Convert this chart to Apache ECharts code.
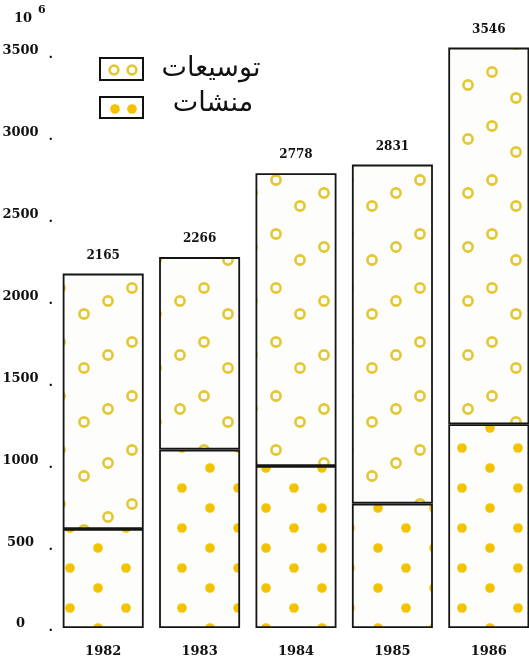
<!DOCTYPE html>
<html><head><meta charset="utf-8">
<script src="https://cdn.jsdelivr.net/npm/echarts@6/dist/echarts.min.js"></script>
<style>html,body{margin:0;padding:0;background:#fff}#c{width:529px;height:664px}</style>
</head><body><div id="c"></div>
<script>
const years = ['1982','1983','1984','1985','1986'];
const totals = [2165, 2266, 2778, 2831, 3546];
const establishments = [605, 1090, 990, 760, 1245];   // منشات (filled dots)
const extensions = [1560, 1176, 1788, 2071, 2301];     // توسيعات (hollow circles)
const yTicks = [0, 500, 1000, 1500, 2000, 2500, 3000, 3500];
const legendNames = ['توسيعات', 'منشات'];

function makePattern(hollow) {
  const c = document.createElement('canvas');
  const w = hollow ? 72 : 56, h = hollow ? 54 : 40;
  c.width = w; c.height = h;
  const ctx = c.getContext('2d');
  ctx.fillStyle = '#fdfdfb'; ctx.fillRect(0, 0, w, h);
  if (hollow) {
    const pts = [[12, 44], [36, 31], [60, 18]];
    ctx.strokeStyle = '#e3c733'; ctx.lineWidth = 2.6;
    pts.forEach(p => {
      for (let dx = -w; dx <= w; dx += w) for (let dy = -h; dy <= h; dy += h) {
        ctx.beginPath(); ctx.arc(p[0] + dx, p[1] + dy, 4.6, 0, Math.PI * 2); ctx.stroke();
      }
    });
  } else {
    const pts = [[14, 8], [42, 28]];
    ctx.fillStyle = '#f3c300';
    pts.forEach(p => {
      for (let dx = -w; dx <= w; dx += w) for (let dy = -h; dy <= h; dy += h) {
        ctx.beginPath(); ctx.arc(p[0] + dx, p[1] + dy, 4.8, 0, Math.PI * 2); ctx.fill();
      }
    });
  }
  return { image: c, repeat: 'repeat' };
}

const chart = echarts.init(document.getElementById('c'), null, { renderer: 'canvas' });
const serif = "'DejaVu Serif', 'Liberation Serif', serif";
const option = {
  backgroundColor: '#ffffff',
  animation: false,
  grid: { left: 55, right: -8, top: 6, bottom: 36, containLabel: false, outerBoundsMode: 'none' },
  xAxis: {
    type: 'category', data: years,
    axisLine: { show: false }, axisTick: { show: false },
    axisLabel: { margin: 17, color: '#111', fontFamily: serif, fontSize: 13, fontWeight: 'bold', hideOverlap: false }
  },
  yAxis: {
    type: 'value', min: 0, max: 3800, interval: 500,
    splitLine: { show: false }, axisLine: { show: false }, axisTick: { show: false },
    axisLabel: {
      showMaxLabel: false, margin: 2,
      formatter: v => yTicks.indexOf(v) >= 0 ? '{n|' + v + '}{d|.}' : '',
      rich: {
        n: { color: '#111', fontFamily: serif, fontSize: 13, fontWeight: 'bold', width: 38, align: 'center', padding: [0, 0, 8, 0] },
        d: { color: '#111', fontFamily: serif, fontSize: 13, fontWeight: 'bold', padding: [0, 0, 0, 9] }
      }
    }
  },
  series: [
    {
      name: legendNames[1], type: 'bar', stack: 's', barWidth: 81,
      data: establishments,
      itemStyle: { color: makePattern(false), borderColor: '#151515', borderWidth: 1.8 }
    },
    {
      name: legendNames[0], type: 'bar', stack: 's', barWidth: 81,
      data: extensions,
      itemStyle: { color: makePattern(true), borderColor: '#151515', borderWidth: 1.8 },
      label: {
        show: true, position: 'top', distance: 12,
        formatter: p => String(totals[p.dataIndex]),
        color: '#111', fontFamily: serif, fontSize: 12, fontWeight: 'bold'
      }
    }
  ],
  graphic: [
    { type: 'text', left: 14, top: 12, style: { text: '10', font: "bold 13px 'DejaVu Serif'", fill: '#111' } },
    { type: 'text', left: 38, top: 5, style: { text: '6', font: "bold 11px 'DejaVu Serif'", fill: '#111' } },
    { type: 'rect', shape: { x: 100, y: 58, width: 43, height: 22 }, style: { fill: '#fff', stroke: '#111', lineWidth: 2 } },
    { type: 'circle', shape: { cx: 114, cy: 70, r: 4.4 }, style: { fill: 'none', stroke: '#e3c733', lineWidth: 2.6 } },
    { type: 'circle', shape: { cx: 132, cy: 70, r: 4.4 }, style: { fill: 'none', stroke: '#e3c733', lineWidth: 2.6 } },
    { type: 'rect', shape: { x: 100, y: 97, width: 43, height: 21 }, style: { fill: '#fff', stroke: '#111', lineWidth: 2 } },
    { type: 'circle', shape: { cx: 115, cy: 109, r: 4.8 }, style: { fill: '#f3c300' } },
    { type: 'circle', shape: { cx: 132, cy: 109, r: 4.8 }, style: { fill: '#f3c300' } },
    { type: 'text', x: 211, y: 69, style: { text: legendNames[0], font: "27px 'DejaVu Sans'", fill: '#111', align: 'center', verticalAlign: 'middle' } },
    { type: 'text', x: 213, y: 104, style: { text: legendNames[1], font: "27px 'DejaVu Sans'", fill: '#111', align: 'center', verticalAlign: 'middle' } }
  ]
};
chart.setOption(option);
</script></body></html>
